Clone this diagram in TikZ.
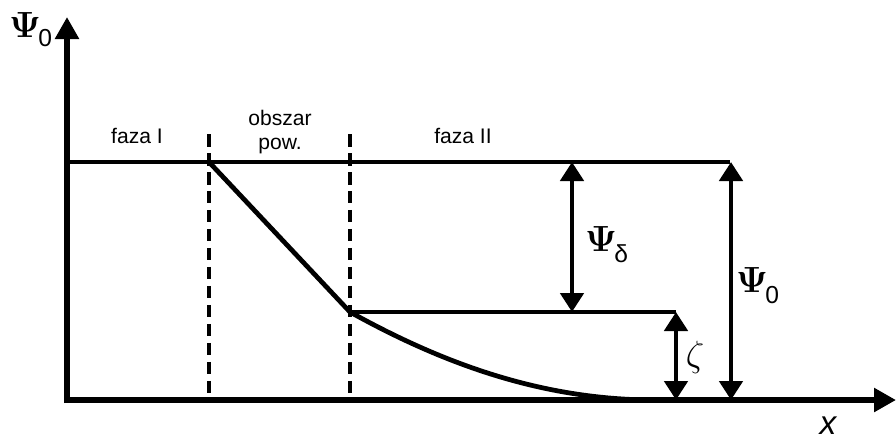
\documentclass[tikz,border=0pt]{standalone}
\usepackage{fontspec}
\setmainfont{Liberation Sans}
\usepackage{amsmath}
\usepackage{tikz}
\usetikzlibrary{arrows.meta, positioning, calc}
\tikzset{
    % axes and lines
    axisline/.style={line width=0.11cm, -{Triangle[length=0.44cm, width=0.46cm]}},
    plotline/.style={line width=0.095cm},
    phaseline/.style={line width=0.08cm, dash pattern=on 0.25cm off 0.13cm},
    dimarrow/.style={line width=0.095cm, {Triangle[length=0.38cm, width=0.46cm]}-{Triangle[length=0.38cm, width=0.46cm]}},
    % labels
    phaselbl/.style={font=\fontsize{12}{13.5}\selectfont, align=center},
    symlbl/.style={font=\fontsize{20}{22}\selectfont, inner sep=0pt},
    sublbl/.style={font=\fontsize{14}{16}\selectfont, inner sep=0pt},
}

\begin{document}
\begin{tikzpicture}[x=0.02cm, y=-0.02cm]
\useasboundingbox (0,0) rectangle (896,441);

% axes
\coordinate (orig) at (67,400);
\coordinate (ytip) at (67,17);
\coordinate (xtip) at (896,400);
\draw[axisline] ($(orig)+(0,3)$) -- (ytip);
\draw[axisline] ($(orig)+(-3,0)$) -- (xtip);

% phase boundaries
\coordinate (b1top) at (209,134);
\coordinate (b1bot) at (209,400);
\coordinate (b2top) at (350,134);
\coordinate (b2bot) at (350,400);
\draw[phaseline] (b1top) -- (b1bot);
\draw[phaseline] (b2top) -- (b2bot);

% potential profile
\coordinate (topL) at (67,162);
\coordinate (topA) at (209,162);
\coordinate (topR) at (730,162);
\coordinate (midA) at (350,312);
\coordinate (midR) at (676,312);
\coordinate (endc) at (655,400);
\draw[plotline] (topL) -- (topR);
\draw[plotline] (topA) -- (midA);
\draw[plotline] (midA) -- (midR);
\draw[plotline] (midA) .. controls (440,362) and (540,400) .. (endc);

% dimension arrows
\coordinate (dA1) at (572,162);
\coordinate (dA2) at (572,312);
\coordinate (dZ1) at (676,312);
\coordinate (dZ2) at (676,400);
\coordinate (dP1) at (731,162);
\coordinate (dP2) at (731,400);
\draw[dimarrow] (dA1) -- (dA2);
\draw[dimarrow] (dZ1) -- (dZ2);
\draw[dimarrow] (dP1) -- (dP2);

% labels
\node[phaselbl] (faza1)  at (137,136) {faza I};
\node[phaselbl] (obszar) at (280,132) {obszar\\pow.};
\node[phaselbl] (faza2)  at (463,136) {faza II};
\node[symlbl] (psiax)  at (25,25)  {$\boldsymbol{\Psi}$};
\node[sublbl, anchor=south west] (psiax0) at (38,47) {0};
\node[symlbl] (psidel) at (601,239) {$\boldsymbol{\Psi}$};
\node[sublbl, anchor=south west] (psidel0) at (614,263) {δ};
\node[symlbl] (psinul) at (752,280) {$\boldsymbol{\Psi}$};
\node[sublbl, anchor=south west] (psinul0) at (765,304) {0};
\node[symlbl] (zeta)   at (695,357) {$\zeta$};
\node[font=\fontsize{19}{20}\selectfont, inner sep=0pt] (xlbl) at (828,426) {\itshape x};
\end{tikzpicture}
\end{document}
